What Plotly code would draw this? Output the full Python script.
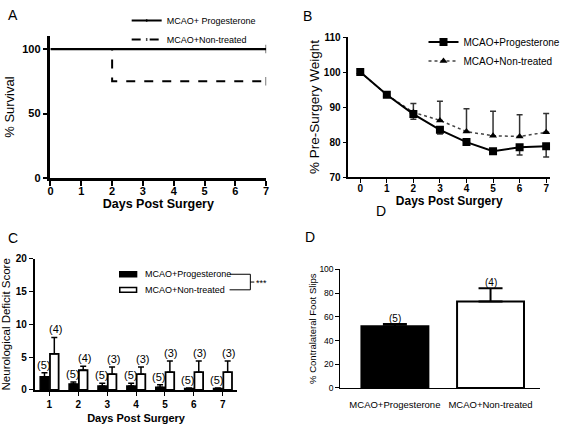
import plotly.graph_objects as go
from plotly.subplots import make_subplots

W, H = 567, 428

# --- data ---
days_a = [0, 2, 7]
surv_prog = [100, 100, 100]
surv_non = [100, 75, 75]
censor_size = [0, 0, 6]

days_b = [0, 1, 2, 3, 4, 5, 6, 7]
wt_prog = [100, 93.5, 88.0, 83.5, 80.0, 77.4, 78.5, 78.8]
wt_prog_lo = [100, 93.5, 86.5, 82.3, 79.6, 77.0, 76.3, 75.7]
wt_non = [100, 93.5, 88.5, 86.2, 83.0, 81.8, 81.6, 82.8]
wt_non_hi = [100, 93.5, 91.0, 91.7, 89.5, 88.8, 87.8, 88.2]

days_c = [1, 2, 3, 4, 5, 6, 7]
nds_prog = [2.0, 0.9, 0.6, 0.6, 0.4, 0.2, 0.2]
nds_prog_hi = [2.6, 1.2, 1.0, 1.0, 0.8, 0.3, 0.3]
nds_non = [5.5, 3.0, 2.4, 2.4, 2.7, 2.7, 2.7]
nds_non_hi = [8.0, 3.6, 3.5, 3.5, 4.4, 4.4, 4.4]
n_prog = ["(5)"] * 7
n_non = ["(4)", "(4)", "(3)", "(3)", "(3)", "(3)", "(3)"]
names_c = ["MCAO+Progesterone", "MCAO+Non-treated"]

groups_d = ["MCAO+Progesterone", "MCAO+Non-treated"]
slips = [52, 73]
slips_hi = [54, 84]
n_d = ["(5)", "(4)"]

FONT = "Arial, Liberation Sans, sans-serif"

def px(x):
    return x / W

def py(y):
    return 1 - y / H

fig = make_subplots(rows=2, cols=2)

# A: survival
tick_marker = dict(symbol="line-ns-open", size=censor_size, color="black", line=dict(color="black", width=1.5))
fig.add_trace(go.Scatter(x=days_a, y=surv_prog, mode="lines+markers", line=dict(color="black", width=2.2),
                         marker=tick_marker, line_shape="hv", name="MCAO+ Progesterone", legend="legend"),
              row=1, col=1)
fig.add_trace(go.Scatter(x=days_a, y=surv_non, mode="lines+markers", line=dict(color="black", width=2, dash="dash"),
                         marker=tick_marker, line_shape="hv", name="MCAO+Non-treated", legend="legend"),
              row=1, col=1)

# B: weight
fig.add_trace(go.Scatter(x=days_b, y=wt_non, mode="lines+markers", name="MCAO+Non-treated",
                         line=dict(color="#444", width=1.5, dash="dot"),
                         marker=dict(symbol="triangle-up", size=7, color="black"),
                         error_y=dict(type="data", symmetric=False,
                                      array=[h - v for h, v in zip(wt_non_hi, wt_non)],
                                      arrayminus=[0] * 8, color="#333", thickness=1.5, width=3),
                         legend="legend2", legendrank=2), row=1, col=2)
fig.add_trace(go.Scatter(x=days_b, y=wt_prog, mode="lines+markers", name="MCAO+Progesterone",
                         line=dict(color="black", width=2),
                         marker=dict(symbol="square", size=8, color="black"),
                         error_y=dict(type="data", symmetric=False, array=[0] * 8,
                                      arrayminus=[v - l for v, l in zip(wt_prog, wt_prog_lo)],
                                      color="#333", thickness=1.5, width=3),
                         legend="legend2", legendrank=1), row=1, col=2)

# C: neurological deficit
fig.add_trace(go.Bar(x=days_c, y=nds_prog, name=names_c[0], showlegend=False,
                     marker=dict(color="black", line=dict(color="black", width=1.5)),
                     error_y=dict(type="data", symmetric=False,
                                  array=[h - v for h, v in zip(nds_prog_hi, nds_prog)],
                                  arrayminus=[0] * 7, color="black", thickness=1.5, width=3)),
              row=2, col=1)
fig.add_trace(go.Bar(x=days_c, y=nds_non, name=names_c[1], showlegend=False,
                     marker=dict(color="white", line=dict(color="black", width=1.8)),
                     error_y=dict(type="data", symmetric=False,
                                  array=[h - v for h, v in zip(nds_non_hi, nds_non)],
                                  arrayminus=[0] * 7, color="black", thickness=1.5, width=3)),
              row=2, col=1)

# D: foot slips
fig.add_trace(go.Bar(x=groups_d, y=slips, showlegend=False, width=0.7,
                     marker=dict(color=["black", "white"], line=dict(color="black", width=2)),
                     error_y=dict(type="data", symmetric=False,
                                  array=[h - v for h, v in zip(slips_hi, slips)],
                                  arrayminus=[0, 0], color="black", thickness=2, width=12)),
              row=2, col=2)

axis_common = dict(showline=True, linecolor="black", ticks="outside", tickcolor="black",
                   showgrid=False, zeroline=False, mirror=False)

# axis A
fig.update_xaxes(axis_common, row=1, col=1, domain=[px(48), px(266)], range=[0, 7], tickvals=list(range(8)),
                 linewidth=2.5, tickwidth=2, ticklen=5, ticklabelstandoff=-4,
                 tickfont=dict(family=FONT, size=11, color="black", weight="bold"),
                 title=dict(text="<b>Days Post Surgery</b>", font=dict(family=FONT, size=12.5, color="black"), standoff=0))
fig.update_yaxes(axis_common, row=1, col=1, domain=[py(177), py(31)], range=[0, 110], tickvals=[0, 50, 100],
                 linewidth=2.5, tickwidth=2, ticklen=5,
                 tickfont=dict(family=FONT, size=11, color="black", weight="bold"),
                 title=dict(text="% Survival", font=dict(family=FONT, size=13, color="black"), standoff=5))

# axis B
fig.update_xaxes(axis_common, row=1, col=2, domain=[px(349), px(553)], range=[-0.45, 7.15], tickvals=days_b,
                 linewidth=1.5, tickwidth=1.2, ticklen=4, ticklabelstandoff=-3,
                 tickfont=dict(family=FONT, size=10, color="black", weight="bold"),
                 title=dict(text="<b>Days Post Surgery</b>", font=dict(family=FONT, size=12, color="black"), standoff=0))
fig.update_yaxes(axis_common, row=1, col=2, domain=[py(176), py(32)], range=[70, 110],
                 tickvals=[70, 80, 90, 100, 110],
                 linewidth=1.5, tickwidth=1.2, ticklen=4,
                 tickfont=dict(family=FONT, size=10, color="black", weight="bold"),
                 title=dict(text="% Pre-Surgery Weight", font=dict(family=FONT, size=13.5, color="black"), standoff=1))

# axis C
fig.update_xaxes(axis_common, row=2, col=1, domain=[px(32), px(237)], range=[0.49, 7.51], tickvals=days_c,
                 linewidth=1.5, tickwidth=1.2, ticklen=4,
                 tickfont=dict(family=FONT, size=10, color="black", weight="bold"),
                 title=dict(text="<b>Days Post Surgery</b>", font=dict(family=FONT, size=11, color="black"), standoff=6))
fig.update_yaxes(axis_common, row=2, col=1, domain=[py(395), py(260)], range=[0, 20],
                 tickvals=[0, 5, 10, 15, 20],
                 linewidth=1.5, tickwidth=1.2, ticklen=4,
                 tickfont=dict(family=FONT, size=10, color="black", weight="bold"),
                 title=dict(text="Neurological Deficit Score", font=dict(family=FONT, size=11.5, color="black"), standoff=3))

# axis D
fig.update_xaxes(axis_common, row=2, col=2, domain=[px(341), px(543)], range=[-0.57, 1.52],
                 linewidth=1.2, ticks="", ticklen=0, ticklabelstandoff=8,
                 tickfont=dict(family=FONT, size=9.5, color="black"))
fig.update_yaxes(axis_common, row=2, col=2, domain=[py(393), py(271)], range=[0, 100],
                 tickvals=[0, 20, 40, 60, 80, 100],
                 linewidth=1.2, tickwidth=1, ticklen=4,
                 tickfont=dict(family=FONT, size=8.5, color="black"),
                 title=dict(text="% Contralateral Foot Slips", font=dict(family=FONT, size=9.5, color="black"), standoff=1))

# n labels
for d, v, t in zip(days_c, nds_prog_hi, n_prog):
    fig.add_annotation(x=d, y=v, text=t, xref="x3", yref="y3", showarrow=False, yanchor="bottom",
                       xshift=-6, yshift=0, font=dict(family=FONT, size=11, color="black"))
for d, v, t in zip(days_c, nds_non_hi, n_non):
    fig.add_annotation(x=d, y=v, text=t, xref="x3", yref="y3", showarrow=False, yanchor="bottom",
                       xshift=6, yshift=0, font=dict(family=FONT, size=11, color="black"))
for g, v, t in zip(groups_d, slips_hi, n_d):
    fig.add_annotation(x=g, y=v, text=t, xref="x4", yref="y4", showarrow=False, yanchor="bottom",
                       yshift=-2, font=dict(family=FONT, size=10, color="black"))

# panel letters
for letter, x0, y0 in [("A", 10, 9), ("B", 308, 10), ("C", 10, 239), ("D", 310, 238), ("D", 382, 211)]:
    fig.add_annotation(x=px(x0), y=py(y0), xref="paper", yref="paper", text=letter, showarrow=False,
                       xanchor="center", yanchor="middle", font=dict(family=FONT, size=14, color="black"))

# legend of panel C (flat boxes) + significance bracket
for name, fill, yy in zip(names_c, ["black", "white"], [276, 292]):
    fig.add_shape(type="rect", xref="paper", yref="paper", x0=px(118), x1=px(135), y0=py(yy - 2.5), y1=py(yy + 2.5),
                  fillcolor=fill, line=dict(color="black", width=1.5))
    fig.add_annotation(x=px(141), y=py(yy), xref="paper", yref="paper", text=name, showarrow=False,
                       xanchor="left", yanchor="middle", font=dict(family=FONT, size=9, color="black"))
fig.add_shape(type="path", xref="paper", yref="paper",
              path=f"M {px(229)} {py(276)} L {px(250)} {py(276)} L {px(250)} {py(292)} L {px(229)} {py(292)}",
              line=dict(color="black", width=1))
fig.add_shape(type="line", xref="paper", yref="paper", x0=px(250), x1=px(254), y0=py(284), y1=py(284),
              line=dict(color="black", width=1))
fig.add_annotation(x=px(254), y=py(285), xref="paper", yref="paper", text="***", showarrow=False,
                   xanchor="left", yanchor="middle", font=dict(family=FONT, size=9, color="black"))

fig.update_layout(
    width=W, height=H, margin=dict(l=0, r=0, t=0, b=0),
    plot_bgcolor="white", paper_bgcolor="white",
    barmode="group", bargap=0.32, bargroupgap=0.12,
    legend=dict(x=px(125), y=1.0, xanchor="left", yanchor="top",
                font=dict(family=FONT, size=9, color="black"),
                bgcolor="rgba(0,0,0,0)", tracegroupgap=0, itemwidth=30),
    legend2=dict(x=px(425), y=py(22), xanchor="left", yanchor="top",
                 font=dict(family=FONT, size=10, color="black"),
                 bgcolor="rgba(0,0,0,0)", traceorder="normal", itemwidth=30),
)

fig.write_html("out.html", config={"displayModeBar": False},
               post_script="document.body.style.margin='0px';")
